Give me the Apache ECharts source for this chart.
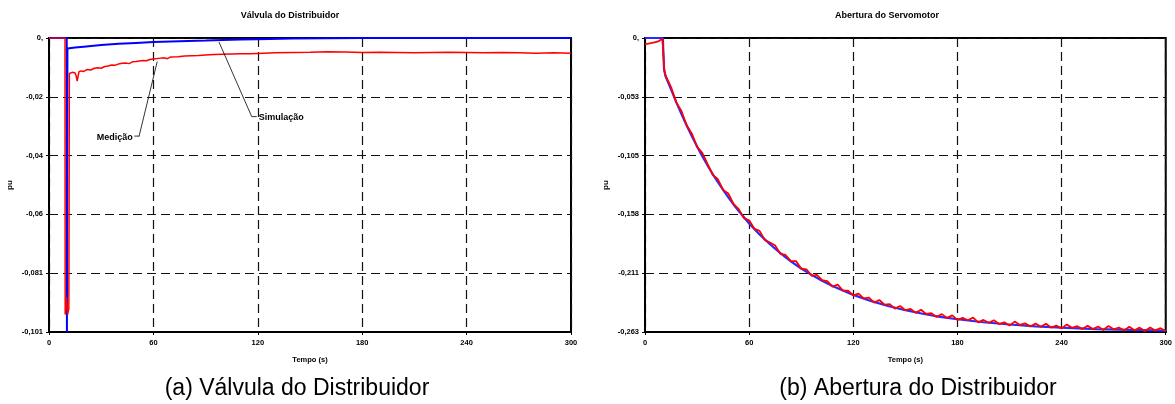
<!DOCTYPE html>
<html>
<head>
<meta charset="utf-8">
<script src="https://cdn.jsdelivr.net/npm/echarts@6/dist/echarts.min.js"></script>
<style>
html,body{margin:0;padding:0;background:#fff;}
#c{width:1175px;height:404px;}
</style>
</head>
<body>
<div id="c"></div>
<script>
// ---------- data ----------
const titles = ['Válvula do Distribuidor', 'Abertura do Servomotor'];
const captions = ['(a) Válvula do Distribuidor', '(b) Abertura do Distribuidor'];
const xTickLabels = ['0', '60', '120', '180', '240', '300'];
const yTickLabelsA = ['0,', '-0,02', '-0,04', '-0,06', '-0,081', '-0,101'];
const yTickLabelsB = ['0,', '-0,053', '-0,105', '-0,158', '-0,211', '-0,263'];
const xAxisName = 'Tempo (s)';
const yAxisName = 'pu';
const seriesNames = ['Simulação', 'Medição'];

// chart (a): [tempo, pu]
const valvSimulacao = [
  [0, 0], [10.2, 0], [10.3, -0.101], [10.6, -0.0036], [15, -0.0033], [20, -0.0030],
  [30, -0.0024], [40, -0.0020], [50, -0.0017], [60, -0.0014], [70, -0.0012],
  [80, -0.0010], [90, -0.0009], [100, -0.0007], [110, -0.0005], [120, -0.0004],
  [140, -0.0002], [160, -0.0001], [180, 0], [300, 0]
];
const valvMedicao = [
  [0, 0], [9.2, 0], [9.3, -0.095], [10.0, -0.089], [10.7, -0.095], [11.4, -0.093],
  [11.7, -0.0122], [12.5, -0.0126], [13.3, -0.0118], [14, -0.0123], [14.8, -0.0119],
  [15.5, -0.0128], [16.2, -0.0148], [16.6, -0.0135], [17.2, -0.0116], [18.5, -0.0113],
  [20, -0.0115], [22, -0.0108], [24, -0.0110], [26, -0.0104], [28, -0.0102],
  [30, -0.0104], [32, -0.0098], [34, -0.0096], [36, -0.0093], [38, -0.0094],
  [40, -0.0089], [42, -0.0087], [44, -0.0086], [46, -0.0088], [48, -0.0082],
  [50, -0.0081], [52, -0.0079], [54, -0.0077], [56, -0.0078], [58, -0.0074],
  [60, -0.0072], [63, -0.0070], [66, -0.0068], [68, -0.0071], [70, -0.0065],
  [74, -0.0064], [78, -0.0062], [82, -0.0061], [86, -0.0060], [90, -0.0058],
  [95, -0.0057], [100, -0.0056], [105, -0.0055], [110, -0.0054], [115, -0.0054],
  [120, -0.0053], [130, -0.0051], [140, -0.0050], [150, -0.0049], [160, -0.0047],
  [170, -0.0048], [180, -0.0050], [190, -0.0049], [200, -0.0050], [210, -0.0051],
  [220, -0.0050], [230, -0.0049], [240, -0.0050], [250, -0.0051], [260, -0.0050],
  [270, -0.0051], [280, -0.0052], [290, -0.0051], [300, -0.0052]
];

// chart (b): [tempo, pu]
const servoSimulacao = [
  [0, 0], [10.3, 0], [10.6, -0.015], [11.0, -0.028], [11.8, -0.034], [15, -0.0459],
  [18, -0.0574], [21, -0.0681], [24, -0.0782], [27, -0.0878], [30, -0.0970],
  [33, -0.1057], [36, -0.1139], [39, -0.1217], [42, -0.1290], [45, -0.1359],
  [48, -0.1425], [51, -0.1489], [54, -0.1549], [57, -0.1604], [60, -0.1659],
  [66, -0.1757], [72, -0.1845], [78, -0.1925], [84, -0.1998], [90, -0.2062],
  [96, -0.2119], [102, -0.2172], [108, -0.2218], [114, -0.2259], [120, -0.2298],
  [130, -0.2352], [140, -0.2397], [150, -0.2435], [160, -0.2467], [170, -0.2494],
  [180, -0.2516], [195, -0.2543], [210, -0.2563], [225, -0.2579], [240, -0.2591],
  [260, -0.2604], [280, -0.2611], [300, -0.2617]
];
const servoMedicao = [
  [0, -0.0055], [1, -0.0048], [2, -0.0050], [3, -0.0040], [4, -0.0044], [5, -0.0033],
  [6, -0.0036], [7, -0.0024], [8, -0.0027], [9, -0.0012], [10, -0.0006], [10.4, 0],
  [10.7, -0.016], [11.1, -0.029], [11.9, -0.034], [13, -0.0375],
  [15, -0.0439], [18, -0.0576], [21, -0.0653], [24, -0.0780], [27, -0.0856],
  [30, -0.0974], [33, -0.1027], [36, -0.1127], [39, -0.1224], [42, -0.1264],
  [45, -0.1359], [48, -0.1392], [51, -0.1485], [54, -0.1531], [57, -0.1612],
  [60, -0.1631], [63, -0.1707], [66, -0.1725], [69, -0.1807], [72, -0.1829],
  [75, -0.1856], [78, -0.1931], [81, -0.1941], [84, -0.1995], [87, -0.1996],
  [90, -0.2064], [93, -0.2069], [96, -0.2127], [99, -0.2118], [102, -0.2167],
  [105, -0.2174], [108, -0.2225], [111, -0.2206], [114, -0.2260], [117, -0.2261],
  [120, -0.2303], [123, -0.2287], [126, -0.2330], [129, -0.2323], [132, -0.2367],
  [135, -0.2344], [138, -0.2386], [141, -0.2381], [144, -0.2421], [147, -0.2397],
  [150, -0.2435], [153, -0.2423], [156, -0.2459], [159, -0.2431], [162, -0.2469],
  [165, -0.2462], [168, -0.2496], [171, -0.2470], [174, -0.2504], [177, -0.2481],
  [180, -0.2521], [183, -0.2504], [186, -0.2525], [189, -0.2501], [192, -0.2544],
  [195, -0.2522], [198, -0.2547], [201, -0.2525], [204, -0.2559], [207, -0.2543],
  [210, -0.2571], [213, -0.2537], [216, -0.2567], [219, -0.2553], [222, -0.2581],
  [225, -0.2554], [228, -0.2583], [231, -0.2556], [234, -0.2591], [237, -0.2573],
  [240, -0.2598], [243, -0.2562], [246, -0.2593], [249, -0.2578], [252, -0.2604],
  [255, -0.2574], [258, -0.2604], [261, -0.2581], [264, -0.2612], [267, -0.2577],
  [270, -0.2606], [273, -0.2590], [276, -0.2616], [279, -0.2583], [282, -0.2614],
  [285, -0.2591], [288, -0.2621], [291, -0.2589], [294, -0.2616], [297, -0.2596],
  [300, -0.2621]
];

// annotation leader lines in data coordinates (chart a)
const medicaoLeader = [[51.7, -0.0339], [62.2, -0.0081]];
const medicaoDash = [[49.0, -0.0337], [51.7, -0.0337]];
const simulacaoLeader = [[97.7, -0.0014], [116.5, -0.0270], [119.4, -0.0270]];

// ---------- chart ----------
const chart = echarts.init(document.getElementById('c'), null, {renderer: 'canvas'});
const FONT = 'Liberation Sans, Arial, Helvetica, sans-serif';
const gridLine = {show: true, lineStyle: {color: '#111', width: 1.2, type: [9, 5]}};

function xAxisCfg(gi) {
  return {
    type: 'value', gridIndex: gi, min: 0, max: 300, interval: 60,
    name: xAxisName, nameLocation: 'middle', nameGap: 24,
    nameTextStyle: {fontFamily: FONT, fontWeight: 'bold', fontSize: 7.5, color: '#000'},
    axisLine: {show: true, onZero: false, lineStyle: {color: '#000', width: 2}},
    axisTick: {show: true, length: 3, lineStyle: {color: '#000', width: 1}},
    axisLabel: {
      margin: 7, fontFamily: FONT, fontWeight: 'bold', fontSize: 7.5, color: '#000',
      formatter: v => xTickLabels[Math.round(v / 60)] || ''
    },
    splitLine: gridLine
  };
}
function yAxisCfg(gi, minV, labels) {
  const step = -minV / 5;
  return {
    type: 'value', gridIndex: gi, min: minV, max: 0, interval: step,
    name: yAxisName, nameLocation: 'middle', nameGap: 35, nameRotate: 90,
    nameTextStyle: {fontFamily: FONT, fontWeight: 'bold', fontSize: 8, color: '#000'},
    axisLine: {show: true, onZero: false, lineStyle: {color: '#000', width: 2}},
    axisTick: {show: true, length: 3, lineStyle: {color: '#000', width: 1}},
    axisLabel: {
      margin: 6, fontFamily: FONT, fontWeight: 'bold', fontSize: 7.5, color: '#000',
      formatter: v => labels[Math.round(-v / step)] || ''
    },
    splitLine: gridLine
  };
}

const option = {
  animation: false,
  backgroundColor: '#fff',
  grid: [
    {left: 49, top: 38, width: 522, height: 294, show: true, borderColor: '#000', borderWidth: 2, backgroundColor: 'transparent'},
    {left: 645, top: 38, width: 522, height: 294, show: true, borderColor: '#000', borderWidth: 2, backgroundColor: 'transparent'}
  ],
  xAxis: [xAxisCfg(0), xAxisCfg(1)],
  yAxis: [yAxisCfg(0, -0.101, yTickLabelsA), yAxisCfg(1, -0.263, yTickLabelsB)],
  series: [
    {name: seriesNames[0], type: 'line', xAxisIndex: 0, yAxisIndex: 0, data: valvSimulacao,
     showSymbol: false, symbol: 'none', lineStyle: {color: '#0000ff', width: 2}, z: 3},
    {name: seriesNames[1], type: 'line', xAxisIndex: 0, yAxisIndex: 0, data: valvMedicao,
     showSymbol: false, symbol: 'none', lineStyle: {color: '#ff0000', width: 1.5}, z: 4},
    {name: seriesNames[0], type: 'line', xAxisIndex: 1, yAxisIndex: 1, data: servoSimulacao,
     showSymbol: false, symbol: 'none', lineStyle: {color: '#2a2aff', width: 2.2}, z: 3},
    {name: seriesNames[1], type: 'line', xAxisIndex: 1, yAxisIndex: 1, data: servoMedicao,
     showSymbol: false, symbol: 'none', lineStyle: {color: '#ff0000', width: 1.8}, z: 4}
  ]
};
chart.setOption(option);

// ---------- texts & annotations ----------
const toPx = (p) => chart.convertToPixel({gridIndex: 0}, p);
const g = [];
// titles
g.push({type: 'text', left: 0, top: 0, style: {text: ''}});
g.length = 0;
g.push({type: 'text', x: 290, y: 16, style: {text: titles[0], fill: '#000', font: 'bold 9px ' + FONT, textAlign: 'center', textVerticalAlign: 'middle'}});
g.push({type: 'text', x: 887, y: 16, style: {text: titles[1], fill: '#000', font: 'bold 9px ' + FONT, textAlign: 'center', textVerticalAlign: 'middle'}});
// captions
g.push({type: 'text', x: 297, y: 389, style: {text: captions[0], fill: '#000', font: '23px ' + FONT, textAlign: 'center', textVerticalAlign: 'middle'}});
g.push({type: 'text', x: 918, y: 389, style: {text: captions[1], fill: '#000', font: '23px ' + FONT, textAlign: 'center', textVerticalAlign: 'middle'}});
// leaders
const pl = (pts) => ({type: 'polyline', shape: {points: pts.map(toPx)}, style: {stroke: '#000', lineWidth: 0.8, fill: null}, z: 100});
g.push(pl(medicaoLeader));
g.push(pl(medicaoDash));
g.push(pl(simulacaoLeader));
const mText = toPx(medicaoDash[0]);
g.push({type: 'text', x: mText[0] - 1.5, y: mText[1] + 1, style: {text: seriesNames[1], fill: '#000', font: 'bold 9px ' + FONT, textAlign: 'right', textVerticalAlign: 'middle'}, z: 100});
const sText = toPx(simulacaoLeader[2]);
g.push({type: 'text', x: sText[0] + 2, y: sText[1] + 0.5, style: {text: seriesNames[0], fill: '#000', font: 'bold 9px ' + FONT, textAlign: 'left', textVerticalAlign: 'middle'}, z: 100});

chart.setOption({graphic: g});
</script>
</body>
</html>
